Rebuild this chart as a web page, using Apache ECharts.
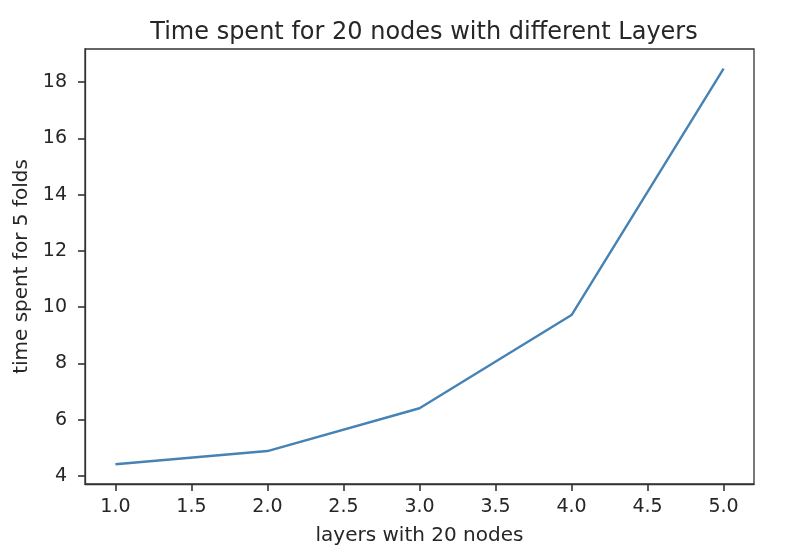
<!DOCTYPE html>
<html><head><meta charset="utf-8">
<script src="https://cdn.jsdelivr.net/npm/echarts@6/dist/echarts.min.js"></script>
<style>html,body{margin:0;padding:0;background:#fff}#c{width:794px;height:558px}</style>
</head><body><div id="c"></div>
<script>
const layers = [1, 2, 3, 4, 5];
const timeSpent = [4.42, 4.89, 6.41, 9.72, 18.47];
const xTicks = [1.0, 1.5, 2.0, 2.5, 3.0, 3.5, 4.0, 4.5, 5.0];
const yTicks = [4, 6, 8, 10, 12, 14, 16, 18];
const titleText = 'Time spent for 20 nodes with different Layers';
const xName = 'layers with 20 nodes';
const yName = 'time spent for 5 folds';

const font = 'DejaVu Sans';
const txt = '#262626';
const axisCol = '#333333';
const chart = echarts.init(document.getElementById('c'), null, {renderer: 'canvas'});
chart.setOption({
  animation: false,
  backgroundColor: '#fff',
  title: {
    text: titleText, left: 419, textAlign: 'center', top: 16,
    textStyle: {fontFamily: font, fontSize: 24, fontWeight: 'normal', color: txt}
  },
  grid: {left: 85, right: 40, top: 49, bottom: 74, show: true, borderColor: axisCol, borderWidth: 1.3, containLabel: false},
  xAxis: {
    type: 'value', min: 0.8, max: 5.2,
    name: xName, nameLocation: 'middle', nameGap: 42,
    nameTextStyle: {fontFamily: font, fontSize: 20, color: txt},
    axisLine: {show: true, lineStyle: {color: axisCol, width: 1.3}},
    axisTick: {show: true, inside: false, customValues: xTicks, length: 7, lineStyle: {color: axisCol, width: 1.6}},
    axisLabel: {customValues: xTicks, fontFamily: font, fontSize: 19, color: txt, margin: 14,
      formatter: v => v.toFixed(1)},
    splitLine: {show: false}
  },
  yAxis: {
    type: 'value', min: 3.72, max: 19.17,
    name: yName, nameLocation: 'middle', nameGap: 52, nameRotate: 90,
    nameTextStyle: {fontFamily: font, fontSize: 20, color: txt},
    axisLine: {show: true, lineStyle: {color: axisCol, width: 1.3}},
    axisTick: {show: true, inside: false, customValues: yTicks, length: 7, lineStyle: {color: axisCol, width: 1.6}},
    axisLabel: {customValues: yTicks, fontFamily: font, fontSize: 19, color: txt, margin: 18,
      formatter: v => String(v)},
    splitLine: {show: false}
  },
  series: [{
    type: 'line',
    data: layers.map((x, i) => [x, timeSpent[i]]),
    showSymbol: false,
    lineStyle: {color: '#4682b4', width: 2.4},
    itemStyle: {color: '#4682b4'}
  }]
});
</script></body></html>
